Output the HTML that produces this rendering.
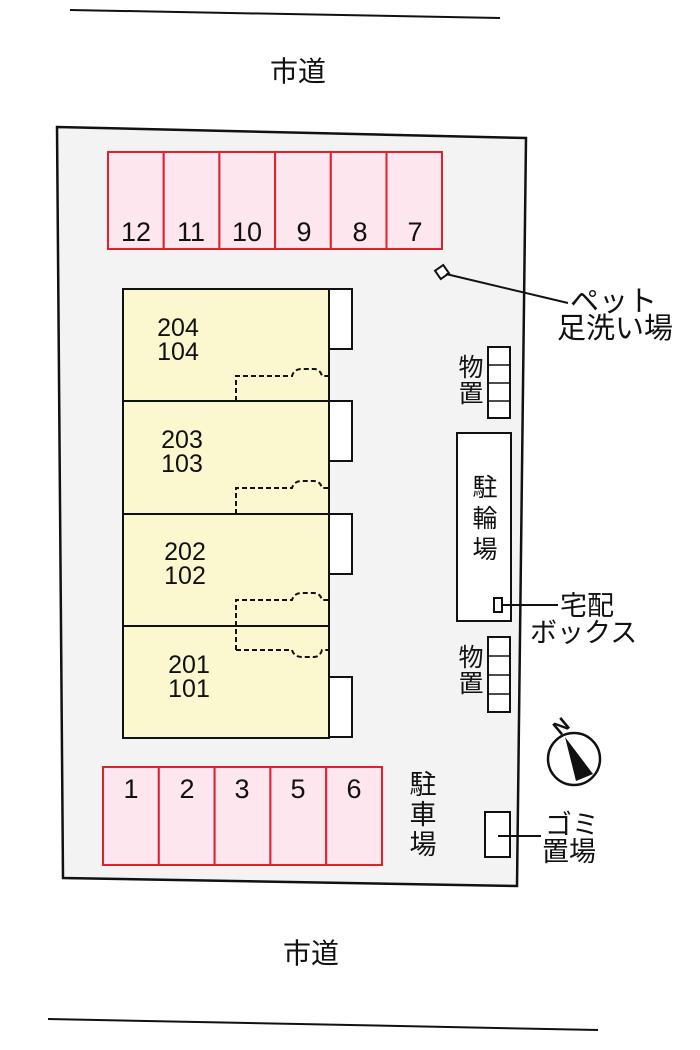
<!DOCTYPE html>
<html><head><meta charset="utf-8"><style>
html,body{margin:0;padding:0;background:#fff;width:700px;height:1050px;overflow:hidden}
svg text{font-family:"Liberation Sans","Noto Sans CJK JP",sans-serif;fill:#111}
</style></head><body>
<svg width="700" height="1050" viewBox="0 0 700 1050" xmlns="http://www.w3.org/2000/svg">
<line x1="70" y1="10" x2="500" y2="18" stroke="#111" stroke-width="2"/>
<line x1="48" y1="1019" x2="598" y2="1030" stroke="#111" stroke-width="2"/>
<text x="298" y="81" font-size="28" text-anchor="middle">市道</text>
<text x="311" y="963" font-size="28" text-anchor="middle">市道</text>
<polygon points="57,127 526,138 517,886 63,878" fill="#f3f3f3" stroke="#111" stroke-width="2.5"/>
<g fill="#fde6ee" stroke="#e0202a" stroke-width="2">
<rect x="108" y="152" width="55.7" height="97"/><rect x="163.7" y="152" width="55.7" height="97"/>
<rect x="219.4" y="152" width="55.7" height="97"/><rect x="275.1" y="152" width="55.7" height="97"/>
<rect x="330.8" y="152" width="55.7" height="97"/><rect x="386.5" y="152" width="55.5" height="97"/>
</g>
<g font-size="27" text-anchor="middle">
<text x="136" y="241">12</text><text x="191" y="241">11</text><text x="247" y="241">10</text>
<text x="304" y="241">9</text><text x="360" y="241">8</text><text x="415" y="241">7</text>
</g>
<g fill="#fde6ee" stroke="#e0202a" stroke-width="2">
<rect x="103" y="767" width="55.8" height="98"/><rect x="158.8" y="767" width="55.8" height="98"/>
<rect x="214.6" y="767" width="55.8" height="98"/><rect x="270.4" y="767" width="55.8" height="98"/>
<rect x="326.2" y="767" width="55.8" height="98"/>
</g>
<g font-size="27" text-anchor="middle">
<text x="131" y="798">1</text><text x="187" y="798">2</text><text x="242" y="798">3</text>
<text x="298" y="798">5</text><text x="354" y="798">6</text>
</g>
<g font-size="27" text-anchor="middle"><text x="423" y="794">駐</text><text x="423" y="824">車</text><text x="423" y="854">場</text></g>
<g fill="#fbf8cf" stroke="#111" stroke-width="2">
<rect x="123" y="289" width="206" height="112"/><rect x="123" y="401" width="206" height="113"/>
<rect x="123" y="514" width="206" height="112"/><rect x="123" y="626" width="206" height="112"/>
</g>
<g fill="#fff" stroke="#111" stroke-width="2">
<rect x="329" y="289" width="23" height="60"/><rect x="329" y="401" width="23" height="60"/>
<rect x="329" y="514" width="23" height="60"/><rect x="329" y="677" width="23" height="60"/>
</g>
<g fill="none" stroke="#111" stroke-width="2" stroke-dasharray="5,3">
<path d="M236,401 V376 H292 Q294,369 302,369 H314 Q320,369 322,376 H329"/>
<path d="M236,514 V488 H292 Q294,481 302,481 H314 Q320,481 322,488 H329"/>
<path d="M236,650 V600 H292 Q294,593 302,593 H314 Q320,593 322,600 H329"/>
<path d="M236,650 H292 Q294,657 302,657 H314 Q320,657 322,650 H329"/>
</g>
<g font-size="25" text-anchor="middle">
<text x="178" y="336">204</text><text x="178" y="360">104</text>
<text x="182" y="448">203</text><text x="182" y="472">103</text>
<text x="185" y="560">202</text><text x="185" y="584">102</text>
<text x="189" y="673">201</text><text x="189" y="697">101</text>
</g>
<g fill="#fff" stroke="#111" stroke-width="2">
<rect x="488" y="347" width="22" height="71"/><rect x="488" y="637" width="22" height="75"/>
<rect x="457" y="433" width="54" height="188"/>
<rect x="494" y="598" width="8" height="14"/>
<rect x="485" y="812" width="25" height="45"/>
</g>
<g stroke="#111" stroke-width="1.5">
<line x1="488" y1="365" x2="510" y2="365"/><line x1="488" y1="383" x2="510" y2="383"/><line x1="488" y1="401" x2="510" y2="401"/>
<line x1="488" y1="656" x2="510" y2="656"/><line x1="488" y1="675" x2="510" y2="675"/><line x1="488" y1="694" x2="510" y2="694"/>
</g>
<g font-size="25" text-anchor="middle">
<text x="471" y="376">物</text><text x="471" y="402">置</text>
<text x="471" y="666">物</text><text x="471" y="692">置</text>
<text x="485" y="496">駐</text><text x="485" y="527">輪</text><text x="485" y="558">場</text>
</g>
<rect x="437" y="267" width="10" height="10" fill="#fff" stroke="#111" stroke-width="2" transform="rotate(-35 442 272)"/>
<line x1="446" y1="274" x2="568" y2="303" stroke="#111" stroke-width="2"/>
<text x="570" y="311" font-size="29">ペット</text>
<text x="557" y="338" font-size="29">足洗い場</text>
<line x1="502" y1="605" x2="558" y2="605" stroke="#111" stroke-width="2"/>
<text x="560" y="615" font-size="27">宅配</text>
<text x="530" y="642" font-size="27">ボックス</text>
<line x1="498" y1="836" x2="541" y2="836" stroke="#111" stroke-width="2"/>
<text x="545" y="834" font-size="27">ゴミ</text>
<text x="542" y="861" font-size="27">置場</text>
<circle cx="574" cy="759" r="26" fill="#fff" stroke="#111" stroke-width="2.5"/>
<polygon points="565,737 593,774 576,781" fill="#111"/>
<text x="561" y="733" font-size="20" font-weight="bold" transform="rotate(-40 561 726)" text-anchor="middle">N</text>
</svg>
</body></html>
